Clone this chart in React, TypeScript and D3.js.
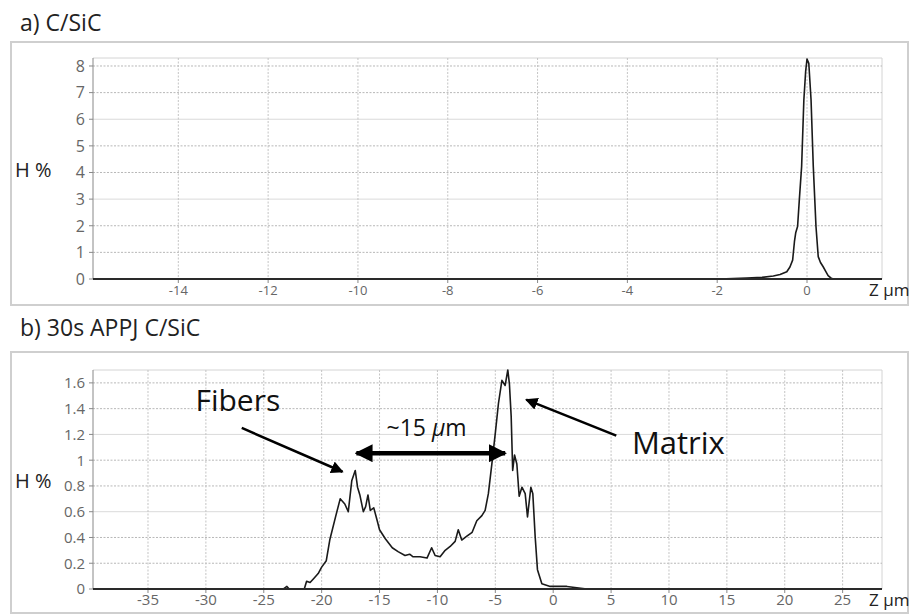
import React from "react";
import * as d3 from "d3";

// panel a) C/SiC height distribution
const zA = [-15.9, -2.4, -1.8, -1.34, -1.0, -0.75, -0.6, -0.45, -0.38, -0.32, -0.28, -0.25, -0.21, -0.17, -0.12, -0.07, -0.03, 0.0, 0.04, 0.09, 0.14, 0.2, 0.25, 0.3, 0.36, 0.42, 0.47, 0.53, 0.58, 1.67];
const hA = [0, 0, 0.01, 0.04, 0.06, 0.11, 0.17, 0.27, 0.45, 0.71, 1.4, 1.75, 1.97, 3.0, 4.22, 6.73, 7.8, 8.26, 8.1, 6.73, 4.22, 1.97, 0.84, 0.62, 0.46, 0.28, 0.13, 0.04, 0, 0];
const xTicksA = [-14, -12, -10, -8, -6, -4, -2, 0];
const yTicksA = [0, 1, 2, 3, 4, 5, 6, 7, 8];

// panel b) 30s APPJ C/SiC height distribution
const zB = [-39.75, -23.3, -23.0, -22.8, -21.5, -21.3, -21.0, -20.7, -20.3, -20.0, -19.6, -19.3, -18.8, -18.4, -18.0, -17.7, -17.4, -17.1, -16.9, -16.7, -16.4, -16.2, -16.0, -15.8, -15.5, -15.2, -15.0, -14.5, -13.9, -13.4, -12.8, -12.4, -12.1, -11.5, -10.9, -10.5, -10.2, -9.77, -9.33, -8.9, -8.47, -8.2, -7.9, -7.46, -7.0, -6.6, -6.16, -5.88, -5.6, -5.3, -5.0, -4.73, -4.43, -4.15, -3.92, -3.78, -3.63, -3.5, -3.34, -3.14, -2.94, -2.7, -2.42, -2.22, -1.93, -1.76, -1.56, -1.36, -0.98, -0.26, 1.18, 2.9, 28.4];
const hB = [0, 0, 0.02, 0, 0, 0.06, 0.05, 0.08, 0.12, 0.17, 0.22, 0.38, 0.56, 0.70, 0.66, 0.60, 0.84, 0.92, 0.79, 0.73, 0.60, 0.64, 0.73, 0.61, 0.63, 0.53, 0.46, 0.39, 0.32, 0.29, 0.26, 0.27, 0.25, 0.25, 0.24, 0.32, 0.26, 0.25, 0.30, 0.33, 0.37, 0.46, 0.38, 0.41, 0.44, 0.53, 0.57, 0.61, 0.74, 0.97, 1.21, 1.44, 1.62, 1.58, 1.70, 1.59, 1.34, 0.92, 1.04, 0.97, 0.72, 0.79, 0.74, 0.56, 0.79, 0.74, 0.41, 0.15, 0.04, 0.02, 0.02, 0, 0];
const xTicksB = [-35, -30, -25, -20, -15, -10, -5, 0, 5, 10, 15, 20, 25];
const yTicksB = [0, 0.2, 0.4, 0.6, 0.8, 1, 1.2, 1.4, 1.6];

const FONT = "'Open Sans', 'Noto Sans', sans-serif";

type PanelProps = {
  title: string;
  titleY: number;
  top: number;
  frameBottom: number;
  z: number[];
  h: number[];
  xDomain: [number, number];
  yDomain: [number, number];
  yRange: [number, number];
  xTicks: number[];
  yTicks: number[];
  xFont: number;
  yFont: number;
  solidGrid: number[];
  children?: (x: d3.ScaleLinear<number, number>, y: d3.ScaleLinear<number, number>) => React.ReactNode;
};

function Panel(p: PanelProps) {
  const x = d3.scaleLinear().domain(p.xDomain).range([93, 882]);
  const y = d3.scaleLinear().domain(p.yDomain).range(p.yRange);
  const pts = p.z.map((d, i) => [d, p.h[i]] as [number, number]);
  const line = d3
    .line<[number, number]>()
    .x((d) => x(d[0]))
    .y((d) => y(d[1]));
  const [y0, yTop] = p.yRange;

  return (
    <g>
      <text x={20} y={p.titleY} fontFamily={FONT} fontSize={23} fill="#222">
        {p.title}
      </text>
      <rect x={11} y={p.top} width={897} height={p.frameBottom - p.top} fill="none" stroke="#cfcfcf" strokeWidth={2} />
      {/* plot border top / right */}
      <line x1={93} x2={882} y1={yTop} y2={yTop} stroke="#d4d4d4" />
      <line x1={882} x2={882} y1={yTop} y2={y0} stroke="#d4d4d4" />
      {p.yTicks.slice(1).map((t) => (
        <line
          key={"gy" + t}
          x1={93}
          x2={882}
          y1={y(t)}
          y2={y(t)}
          stroke={p.solidGrid.includes(t) ? "#dadada" : "#b8b8b8"}
          strokeDasharray={p.solidGrid.includes(t) ? undefined : "2,1.5"}
        />
      ))}
      {p.xTicks.map((t) => (
        <line key={"gx" + t} x1={x(t)} x2={x(t)} y1={yTop} y2={y0} stroke="#c4c4c4" strokeDasharray="2,1.5" />
      ))}
      <line x1={93} x2={93} y1={yTop} y2={y0} stroke="#888" strokeWidth={1} />
      {p.yTicks.map((t) => (
        <g key={"ty" + t}>
          <line x1={89} x2={93} y1={y(t)} y2={y(t)} stroke="#888" />
          <text x={85} y={y(t)} dy="0.36em" textAnchor="end" fontFamily={FONT} fontSize={p.yFont} fill="#666">
            {String(t)}
          </text>
        </g>
      ))}
      {p.xTicks.map((t) => (
        <g key={"tx" + t}>
          <line x1={x(t)} x2={x(t)} y1={y0} y2={y0 + 4} stroke="#888" />
          <text x={x(t)} y={y0 + 16} textAnchor="middle" fontFamily={FONT} fontSize={p.xFont} fill="#666">
            {String(t)}
          </text>
        </g>
      ))}
      <path d={line(pts) || ""} fill="none" stroke="#1a1a1a" strokeWidth={1.6} strokeLinejoin="round" />
      <line x1={93} x2={882} y1={y0} y2={y0} stroke="#2a2a2a" strokeWidth={2.2} />
      <text x={869} y={y0 + 17} fontFamily={FONT} fontSize={17} fill="#222">
        Z μm
      </text>
      <text x={15} y={(y0 + yTop) / 2 + 8} fontFamily={FONT} fontSize={20} fill="#222">
        H %
      </text>
      {p.children && p.children(x, y)}
    </g>
  );
}

export default function App() {
  return (
    <svg width={914} height={615} style={{ position: "absolute", left: 0, top: 0, background: "#fff" }}>
      <defs>
        <marker id="ah" viewBox="0 0 10 10" refX="9" refY="5" markerWidth="5" markerHeight="5" orient="auto-start-reverse">
          <path d="M0,0 L10,5 L0,10 z" fill="#000" />
        </marker>
        <marker id="ah2" viewBox="0 0 10 10" refX="9" refY="5" markerWidth="4" markerHeight="4" orient="auto-start-reverse">
          <path d="M0,0 L10,5 L0,10 z" fill="#000" />
        </marker>
      </defs>
      <Panel
        title="a) C/SiC"
        titleY={31}
        top={42}
        frameBottom={305}
        z={zA}
        h={hA}
        xDomain={[-15.9, 1.67]}
        yDomain={[0, 8.3]}
        yRange={[279, 58]}
        xTicks={xTicksA}
        yTicks={yTicksA}
        xFont={13}
        yFont={16}
        solidGrid={[3, 6]}
      />
      <Panel
        title="b) 30s APPJ C/SiC"
        titleY={336}
        top={352}
        frameBottom={613}
        z={zB}
        h={hB}
        xDomain={[-39.75, 28.4]}
        yDomain={[0, 1.7]}
        yRange={[589, 370]}
        xTicks={xTicksB}
        yTicks={yTicksB}
        xFont={15}
        yFont={15}
        solidGrid={[0.6, 1.2]}
      >
        {(x, y) => (
          <g>
            <text x={x(-30.9)} y={y(1.38)} fontFamily={FONT} fontSize={30} fill="#111">
              Fibers
            </text>
            <line x1={x(-26.9)} y1={y(1.25)} x2={x(-18.2)} y2={y(0.91)} stroke="#000" strokeWidth={2.5} markerEnd="url(#ah)" />
            <text x={x(6.8)} y={y(1.05)} fontFamily={FONT} fontSize={31} fill="#111">
              Matrix
            </text>
            <line x1={x(5.45)} y1={y(1.19)} x2={x(-2.33)} y2={y(1.47)} stroke="#000" strokeWidth={2.5} markerEnd="url(#ah)" />
            <text x={x(-14.4)} y={y(1.19)} fontFamily={FONT} fontSize={23} fill="#111">
              ~15 <tspan fontStyle="italic">μ</tspan>m
            </text>
            <line
              x1={x(-17.0)}
              y1={y(1.054)}
              x2={x(-4.15)}
              y2={y(1.054)}
              stroke="#000"
              strokeWidth={4.5}
              markerStart="url(#ah2)"
              markerEnd="url(#ah2)"
            />
          </g>
        )}
      </Panel>
    </svg>
  );
}
